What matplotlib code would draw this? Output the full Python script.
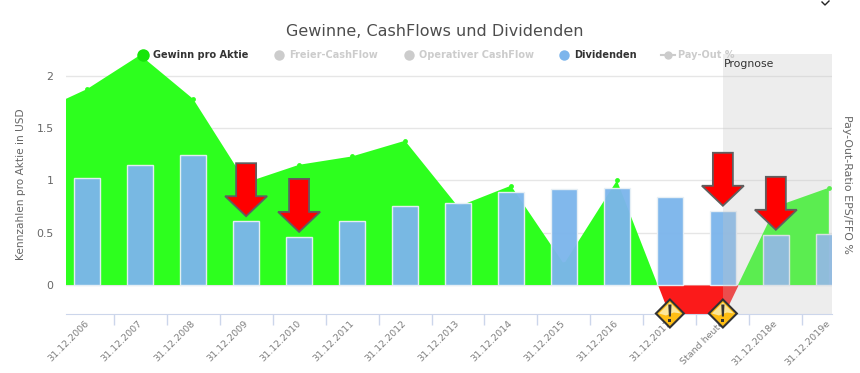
import numpy as np
import matplotlib
matplotlib.use('Agg')
import matplotlib.pyplot as plt
from matplotlib.lines import Line2D
from matplotlib.patches import Polygon
from matplotlib.transforms import Affine2D, ScaledTranslation

plt.rcParams['font.family'] = ['DejaVu Sans']

# werte
categories = ['31.12.2006', '31.12.2007', '31.12.2008', '31.12.2009', '31.12.2010',
              '31.12.2011', '31.12.2012', '31.12.2013', '31.12.2014', '31.12.2015',
              '31.12.2016', '31.12.2017', 'Stand heute', '31.12.2018e', '31.12.2019e']
eps_before = 1.64  # punkt links vom sichtbaren bereich
eps = [1.875, 2.2, 1.78, 0.98, 1.15, 1.23, 1.38, 0.75, 0.95, 0.2, 1.0, -0.3, -0.3, 0.75, 0.93]
dividends = [1.02, 1.15, 1.24, 0.61, 0.46, 0.61, 0.76, 0.78, 0.89, 0.92, 0.93, 0.84, 0.71, 0.48, 0.49]
arrow_idx = [3, 4, 12, 13]
warn_idx = [11, 12]
prognose_from = 12
yticks = [0, 0.5, 1, 1.5, 2]
ytick_labels = ['0', '0.5', '1', '1.5', '2']

GREEN = '#2dff1e'
BLUE = '#7cb5ec'
W, H = 860, 373

fig = plt.figure(figsize=(W / 100, H / 100), dpi=100)
ax = fig.add_axes([66 / W, 1 - 313.5 / H, (832 - 66) / W, (313.5 - 54) / H])
ax.set_xlim(-0.4, 14.06)
ax.set_ylim(-0.273, 2.21)

x = np.arange(-1, len(eps))
y = np.array([eps_before] + eps)
ax.fill_between(x, 0, y, where=y >= 0, interpolate=True, color=GREEN, lw=0, zorder=2)
ax.fill_between(x, 0, y, where=y <= 0, interpolate=True, color='#fb1a1a', lw=0, zorder=2)
ax.plot(np.arange(len(eps))[np.array(eps) > 0], np.array(eps)[np.array(eps) > 0], ls='none',
        marker='o', ms=3.5, color=GREEN, mew=0, zorder=2.1)
ax.bar(np.arange(len(dividends)), dividends, width=0.5, color=BLUE, alpha=0.96,
       edgecolor='#e8f0f6', linewidth=1, zorder=3)

# prognose bereich liegt ueber allem und hellt es auf
ax.axvspan(prognose_from, 14.06, color='#c6c6c6', alpha=0.3, lw=0, zorder=4)
ax.text(prognose_from + 0.02, 2.11, 'Prognose', fontsize=7.8, color='#333333', va='center', zorder=6)

ax.set_yticks(yticks, ytick_labels)
ax.set_xticks(np.arange(len(categories)), categories, rotation=45, ha='right',
              rotation_mode='anchor', fontsize=6.8, color='#808080')
ax.set_xticks(np.arange(len(categories) - 1) + 0.5, minor=True)
ax.tick_params(axis='x', which='major', length=0, pad=4)
ax.tick_params(axis='x', which='minor', length=8, color='#ccd6eb', width=1)
ax.tick_params(axis='y', length=0, pad=9, labelsize=7.8, labelcolor='#666666')
ax.grid(axis='y', color='#e6e6e6', lw=1, zorder=1)
ax.set_axisbelow(True)
for s in ['top', 'left', 'right']:
    ax.spines[s].set_visible(False)
ax.spines['bottom'].set_color('#ccd6eb')

shift = ScaledTranslation(-3 / 100, 0, fig.dpi_scale_trans)
for lab in ax.get_xticklabels():
    lab.set_transform(lab.get_transform() + shift)


def pixel_tf(i, v):
    px, py = ax.transData.transform((i, v))
    return Affine2D().translate(px, py)


arrow_shape = [(-10, 58), (10, 58), (10, 25), (21, 25), (0, 5), (-21, 25), (-10, 25)]
for i in arrow_idx:
    ax.add_patch(Polygon(arrow_shape, closed=True, transform=pixel_tf(i, dividends[i]),
                         facecolor='#ff0000', edgecolor='#5f5f5f', lw=1.3, zorder=7, clip_on=False))

for i in warn_idx:
    tf = pixel_tf(i, ax.get_ylim()[0])
    ax.add_patch(Polygon([(-14, 0), (0, 14), (14, 0), (0, -14)], closed=True, transform=tf,
                         facecolor='#ffbe14', edgecolor='#333333', lw=1.5, zorder=8, clip_on=False))
    ax.add_patch(Polygon([(-11, 0), (0, 11), (11, 0), (4, 1), (-4, -2)], closed=True, transform=tf,
                         facecolor='#fbe69a', lw=0, zorder=8.1, clip_on=False))
    ax.add_patch(Polygon([(-1.6, 9), (1.6, 9), (1, -3), (-1, -3)], closed=True, transform=tf,
                         facecolor='#333333', lw=0, zorder=8.2, clip_on=False))
    ax.add_patch(Polygon([(-1.5, -5), (1.5, -5), (1.5, -8), (-1.5, -8)], closed=True, transform=tf,
                         facecolor='#333333', lw=0, zorder=8.2, clip_on=False))

fig.text(434.5 / W, 1 - 31 / H, 'Gewinne, CashFlows und Dividenden', fontsize=11.5, color='#4d4d4d',
         ha='center', va='center')
fig.text(21 / W, 1 - 184 / H, 'Kennzahlen pro Aktie in USD', fontsize=7.6, color='#666666',
         rotation=90, ha='center', va='center')
fig.text(847 / W, 1 - 184 / H, 'Pay-Out-Ratio EPS/FFO %', fontsize=7.9, color='#666666',
         rotation=270, ha='center', va='center')

handles = [
    Line2D([], [], ls='none', marker='o', ms=9, color='#16e60a', mew=0),
    Line2D([], [], ls='none', marker='o', ms=7.5, color='#cccccc', mew=0),
    Line2D([], [], ls='none', marker='o', ms=7.5, color='#cccccc', mew=0),
    Line2D([], [], ls='none', marker='o', ms=7.5, color=BLUE, mew=0),
    Line2D([], [], ls='-', lw=1.5, marker='o', ms=6, color='#cccccc', mew=0),
]
labels = ['Gewinn pro Aktie', 'Freier-CashFlow', 'Operativer CashFlow', 'Dividenden', 'Pay-Out %']
text_colors = ['#333333', '#cccccc', '#cccccc', '#333333', '#cccccc']
leg = fig.legend(handles, labels, loc='center', bbox_to_anchor=(435 / W, 1 - 55 / H), ncol=5,
                 frameon=False, prop={'size': 7, 'weight': 'bold'}, handlelength=1.5,
                 handletextpad=0.3, columnspacing=2.4, borderpad=0)
leg.set_zorder(10)
for t, c in zip(leg.get_texts(), text_colors):
    t.set_color(c)

# kleiner abgeschnittener rest oben rechts
fig.add_artist(Line2D([822 / W, 825 / W, 829 / W], [1 - 2 / H, 1 - 5 / H, 1 - 1 / H], color='#222222', lw=1))

fig.savefig('out.png', dpi=100)
